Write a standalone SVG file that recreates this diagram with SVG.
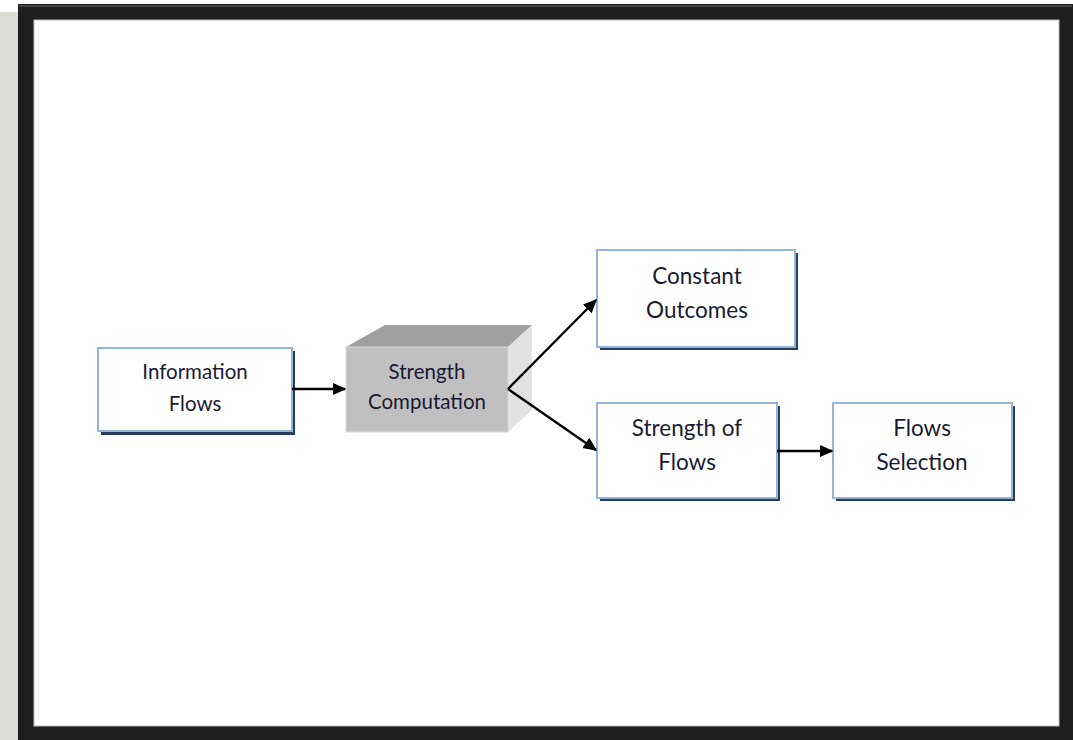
<svg xmlns="http://www.w3.org/2000/svg" width="1073" height="740" viewBox="0 0 1073 740">
<defs>
<style>
.box{fill:#ffffff;stroke:#95b3d7;stroke-width:2}
.sh{fill:#243f60}
.t{font-family:Lato,"Open Sans",sans-serif;fill:#1a1a33;text-anchor:middle}
.c{stroke:#000;stroke-width:2.3;fill:none;marker-end:url(#ah)}
</style>
<marker id="ah" viewBox="0 0 10 10" refX="9" refY="5" markerWidth="6" markerHeight="6" orient="auto" markerUnits="strokeWidth">
<path d="M0,0.5 L10,5 L0,9.5 z" fill="#000"/>
</marker>
</defs>
<rect x="0" y="0" width="1073" height="740" fill="#ffffff"/>
<rect x="0" y="12" width="18" height="728" fill="#dddbd5"/>
<rect x="18" y="4" width="1055" height="736" fill="#1e1e1e"/>
<rect x="19" y="5" width="1053" height="2" fill="#444"/>
<rect x="34" y="20" width="1025" height="706" fill="#ffffff" stroke="#bbbbbb" stroke-width="1"/>

<g id="information-flows">
<rect class="sh" x="101" y="351" width="194" height="84"/>
<rect class="box" x="98" y="348" width="194" height="83"/>
<text class="t" x="195" y="379" font-size="20.5">Information</text>
<text class="t" x="195" y="411" font-size="20.5">Flows</text>
</g>

<g id="strength-computation">
<polygon points="346,347 385,325 532,325 508,347" fill="#a0a0a0"/>
<polygon points="508,347 532,325 532,410 508,432" fill="#e2e2e2"/>
<rect x="346" y="347" width="162" height="85" fill="#c0c0c0" stroke="#d9d9d9" stroke-width="1"/>
<text class="t" x="427" y="379" font-size="20.5">Strength</text>
<text class="t" x="427" y="409" font-size="20.5">Computation</text>
</g>

<g id="constant-outcomes">
<rect class="sh" x="600" y="253" width="198" height="97"/>
<rect class="box" x="597" y="250" width="198" height="97"/>
<text class="t" x="697" y="284" font-size="22.5">Constant</text>
<text class="t" x="697" y="318" font-size="22.5">Outcomes</text>
</g>

<g id="strength-of-flows">
<rect class="sh" x="600" y="406" width="180" height="95"/>
<rect class="box" x="597" y="403" width="180" height="95"/>
<text class="t" x="687" y="436" font-size="22.5">Strength of</text>
<text class="t" x="687" y="470" font-size="22.5">Flows</text>
</g>

<g id="flows-selection">
<rect class="sh" x="836" y="406" width="179" height="95"/>
<rect class="box" x="833" y="403" width="179" height="95"/>
<text class="t" x="922" y="436" font-size="22.5">Flows</text>
<text class="t" x="922" y="470" font-size="22.5">Selection</text>
</g>

<g id="connectors">
<line class="c" x1="292" y1="389" x2="345" y2="389"/>
<line class="c" x1="508" y1="389" x2="596" y2="300"/>
<line class="c" x1="508" y1="389" x2="596" y2="450"/>
<line class="c" x1="777" y1="451" x2="832" y2="451"/>
</g>
</svg>
